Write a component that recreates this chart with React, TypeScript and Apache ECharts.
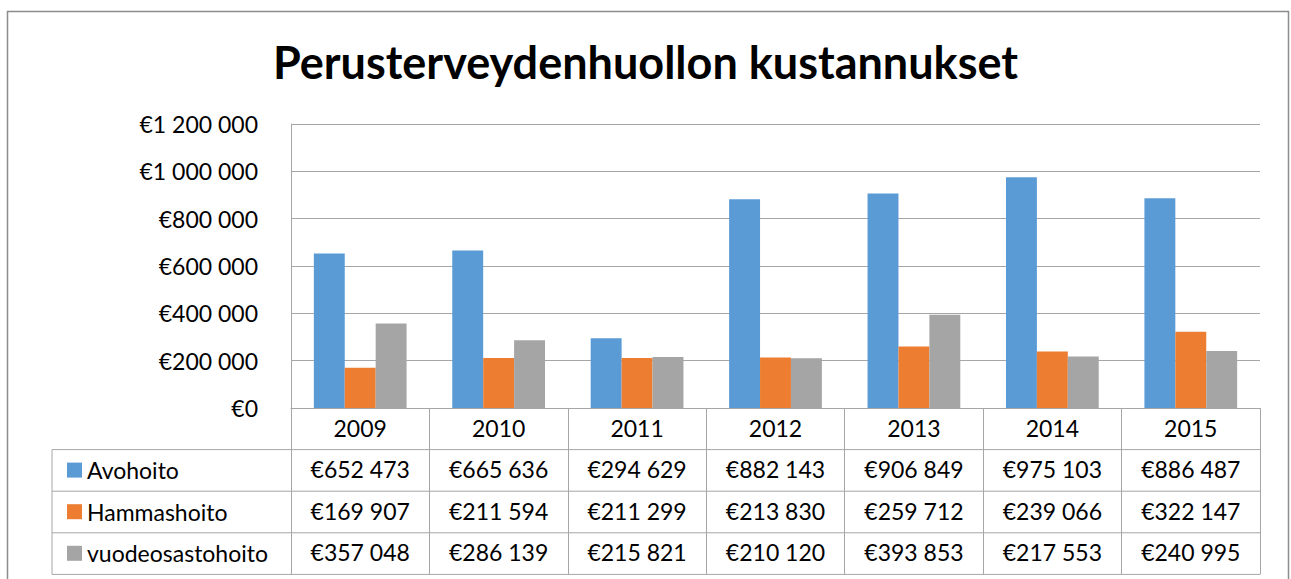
import React, { useEffect, useRef } from "react";
import * as echarts from "echarts";

const years = ["2009", "2010", "2011", "2012", "2013", "2014", "2015"];
const seriesNames = ["Avohoito", "Hammashoito", "vuodeosastohoito"];
const avohoito = [652473, 665636, 294629, 882143, 906849, 975103, 886487];
const hammashoito = [169907, 211594, 211299, 213830, 259712, 239066, 322147];
const vuodeosastohoito = [357048, 286139, 215821, 210120, 393853, 217553, 240995];
const colors = ["#5B9BD5", "#ED7D31", "#A5A5A5"];
const titleText = "Perusterveydenhuollon kustannukset";

const fmt = (v: number) =>
  "€" + String(Math.round(v)).replace(/\B(?=(\d{3})+(?!\d))/g, " ");

export default function App() {
  const ref = useRef<HTMLDivElement>(null);
  useEffect(() => {
    if (!ref.current) return;
    const chart = echarts.init(ref.current, null, { renderer: "svg" });
    const values = [avohoito, hammashoito, vuodeosastohoito];
    const font = "Lato, 'Open Sans', sans-serif";
    const lineColor = "#a6a6a6";
    const rowTop = 408;
    const rowH = 41.6;
    const tableLeft = 52;
    const tableRight = 1260;
    const rowLines = [1, 2, 3, 4].map((k) => ({
      type: "line",
      shape: { x1: tableLeft, y1: rowTop + rowH * k, x2: tableRight, y2: rowTop + rowH * k },
      style: { stroke: lineColor, lineWidth: 1 },
      silent: true,
    }));
    const extraAxes = values.map((arr, k) => ({
      type: "category",
      data: years,
      position: "bottom",
      offset: rowH * (k + 1),
      axisLine: { show: false },
      axisTick: { show: false },
      axisLabel: {
        margin: 8,
        color: "#000",
        fontFamily: font,
        fontSize: 23,
        formatter: (_v: string, i: number) => fmt(arr[i]),
      },
    }));
    chart.setOption({
      animation: false,
      backgroundColor: "#fff",
      title: {
        text: titleText,
        left: "center",
        top: 34,
        textStyle: { fontFamily: font, fontWeight: "bold", fontSize: 45, color: "#000" },
      },
      grid: { left: 291, right: 31, top: 124, bottom: 171, containLabel: false },
      legend: {
        orient: "vertical",
        left: 62,
        top: rowTop + rowH + 4,
        itemWidth: 15,
        itemHeight: 15,
        itemGap: rowH - 23,
        icon: "rect",
        data: seriesNames,
        textStyle: { fontFamily: font, fontSize: 23, color: "#000", lineHeight: 23 },
        selectedMode: false,
      },
      xAxis: [
        {
          type: "category",
          data: years,
          position: "bottom",
          axisLine: { show: true, lineStyle: { color: lineColor, width: 1 } },
          axisTick: {
            show: true,
            alignWithLabel: false,
            length: rowH * 4,
            lineStyle: { color: lineColor, width: 1 },
          },
          axisLabel: { margin: 8, color: "#000", fontFamily: font, fontSize: 23 },
        },
        ...extraAxes,
      ],
      yAxis: {
        type: "value",
        min: 0,
        max: 1200000,
        interval: 200000,
        axisLine: { show: true, lineStyle: { color: lineColor, width: 1 } },
        axisTick: { show: false },
        splitLine: { show: true, lineStyle: { color: lineColor, width: 1 } },
        axisLabel: {
          margin: 33,
          color: "#000",
          fontFamily: font,
          fontSize: 23,
          formatter: (v: number) => fmt(v),
        },
      },
      series: values.map((arr, k) => ({
        name: seriesNames[k],
        type: "bar",
        xAxisIndex: 0,
        data: arr,
        barGap: "0%",
        barCategoryGap: "33%",
        itemStyle: { color: colors[k] },
      })),
      graphic: [
        {
          type: "rect",
          shape: { x: 7.5, y: 11.5, width: 1281, height: 600 },
          style: { fill: "none", stroke: "#8c8c8c", lineWidth: 1.5 },
          silent: true,
        },
        ...rowLines,
        {
          type: "line",
          shape: { x1: tableLeft, y1: rowTop + rowH, x2: tableLeft, y2: rowTop + rowH * 4 },
          style: { stroke: lineColor, lineWidth: 1 },
          silent: true,
        },
      ],
    });
    return () => chart.dispose();
  }, []);
  return (
    <div
      ref={ref}
      style={{ position: "fixed", left: 0, top: 0, width: 1291, height: 579 }}
    />
  );
}
